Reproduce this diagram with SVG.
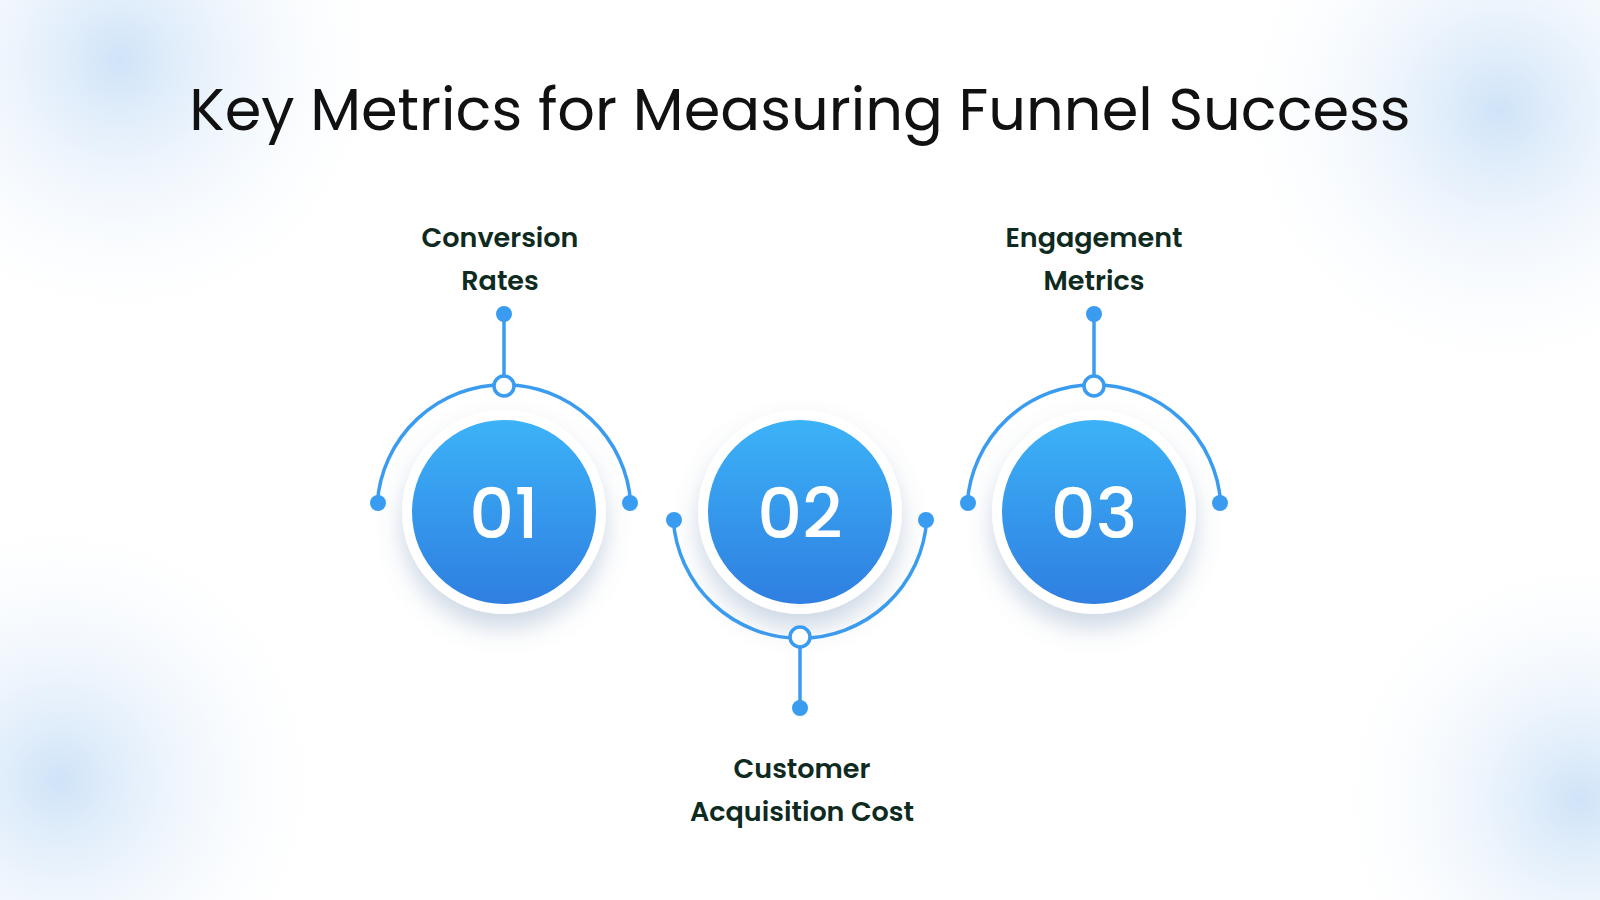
<svg xmlns="http://www.w3.org/2000/svg" width="1600" height="900" viewBox="0 0 1600 900">
<defs>
<radialGradient id="bg1" cx="0.5" cy="0.5" r="0.5"><stop offset="0" stop-color="#cfe3f8"/><stop offset="1" stop-color="#ffffff" stop-opacity="0"/></radialGradient>
<linearGradient id="cg" x1="0" y1="0" x2="0" y2="1"><stop offset="0" stop-color="#3cb2f8"/><stop offset="1" stop-color="#2f7fe0"/></linearGradient>
<filter id="sh" x="-50%" y="-50%" width="200%" height="200%"><feDropShadow dx="0" dy="14" stdDeviation="12" flood-color="#5a7ea8" flood-opacity="0.3"/></filter>
<style>
.arc{fill:none;stroke:#3a9cf0;stroke-width:3.5}
.dot{fill:#3a9cf0}
.ring{fill:#fff;stroke:#3a9cf0;stroke-width:3.5}
.lbl{font-family:Poppins,"Open Sans","Liberation Sans",sans-serif;font-weight:600;font-size:27px;fill:#0f2a1f;text-anchor:middle}
.num{font-family:Poppins,"Open Sans","Liberation Sans",sans-serif;font-weight:500;font-size:70px;fill:#fff;text-anchor:middle}
</style>
</defs>
<rect width="1600" height="900" fill="#fff"/>
<circle cx="120" cy="60" r="280" fill="url(#bg1)"/>
<circle cx="1500" cy="110" r="280" fill="url(#bg1)"/>
<circle cx="60" cy="780" r="280" fill="url(#bg1)"/>
<circle cx="1580" cy="800" r="260" fill="url(#bg1)"/>
<text x="800" y="130" font-family="Poppins,'Open Sans','Liberation Sans',sans-serif" font-size="59" fill="#111" text-anchor="middle">Key Metrics for Measuring Funnel Success</text>
<g id="connectors">
<path class="arc" d="M377.3 503 A127 127 0 0 1 630.7 503"/>
<line class="arc" x1="504" y1="314" x2="504" y2="385"/>
<path class="arc" d="M673.3 520 A127 127 0 0 0 926.7 520"/>
<line class="arc" x1="800" y1="637" x2="800" y2="708"/>
<path class="arc" d="M967.3 503 A127 127 0 0 1 1220.7 503"/>
<line class="arc" x1="1094" y1="314" x2="1094" y2="385"/>
</g>
<g id="node1">
<circle cx="504" cy="512" r="102" fill="#fff" filter="url(#sh)"/>
<circle cx="504" cy="512" r="92" fill="url(#cg)"/>
<text class="num" x="504" y="538">01</text>
<circle class="dot" cx="378" cy="503" r="8"/><circle class="dot" cx="630" cy="503" r="8"/><circle class="dot" cx="504" cy="314" r="8"/>
<circle class="ring" cx="504" cy="386" r="10"/>
<text class="lbl" x="500" y="247">Conversion</text><text class="lbl" x="500" y="290">Rates</text>
</g>
<g id="node2">
<circle cx="800" cy="512" r="102" fill="#fff" filter="url(#sh)"/>
<circle cx="800" cy="512" r="92" fill="url(#cg)"/>
<text class="num" x="800" y="538">02</text>
<circle class="dot" cx="674" cy="520" r="8"/><circle class="dot" cx="926" cy="520" r="8"/><circle class="dot" cx="800" cy="708" r="8"/>
<circle class="ring" cx="800" cy="637" r="10"/>
<text class="lbl" x="802" y="778">Customer</text><text class="lbl" x="802" y="821">Acquisition Cost</text>
</g>
<g id="node3">
<circle cx="1094" cy="512" r="102" fill="#fff" filter="url(#sh)"/>
<circle cx="1094" cy="512" r="92" fill="url(#cg)"/>
<text class="num" x="1094" y="538">03</text>
<circle class="dot" cx="968" cy="503" r="8"/><circle class="dot" cx="1220" cy="503" r="8"/><circle class="dot" cx="1094" cy="314" r="8"/>
<circle class="ring" cx="1094" cy="386" r="10"/>
<text class="lbl" x="1094" y="247">Engagement</text><text class="lbl" x="1094" y="290">Metrics</text>
</g>
</svg>
